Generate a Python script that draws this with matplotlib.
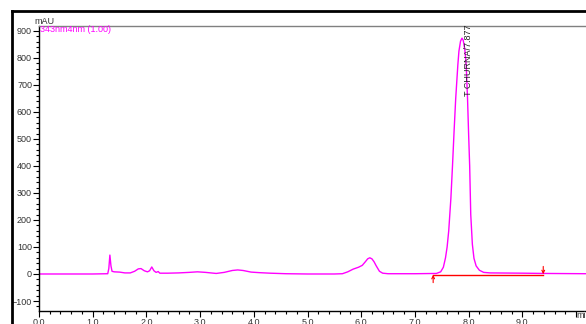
import matplotlib
matplotlib.use("Agg")
import matplotlib.pyplot as plt
from matplotlib.lines import Line2D
from matplotlib.ticker import MultipleLocator, FixedLocator

plt.rcParams['font.family'] = ['Liberation Sans', 'DejaVu Sans']

# Chromatogram trace (time in min, absorbance in mAU)
time_min = [0.0, 1.0, 1.28, 1.30, 1.32, 1.34, 1.36, 1.40, 1.50, 1.60, 1.70, 1.78,
            1.85, 1.90, 1.96, 2.02, 2.06, 2.10, 2.14, 2.18, 2.22, 2.25, 2.40, 2.60,
            2.80, 2.95, 3.10, 3.30, 3.45, 3.60, 3.70, 3.80, 3.95, 4.10, 4.30, 4.60,
            5.00, 5.50, 5.65, 5.75, 5.85, 5.95, 6.02, 6.08, 6.12, 6.16, 6.20, 6.24,
            6.28, 6.34, 6.40, 6.50, 7.00, 7.40, 7.48, 7.53, 7.57, 7.60, 7.63, 7.67,
            7.70, 7.73, 7.76, 7.80, 7.82, 7.85, 7.877, 7.90, 7.93, 7.955, 7.98, 8.00,
            8.02, 8.04, 8.07, 8.10, 8.14, 8.20, 8.28, 8.40, 9.00, 9.40, 10.20]
absorb_mau = [0, 0, 1, 20, 70, 30, 10, 8, 7, 4, 4, 10,
              19, 20, 12, 8, 12, 26, 12, 6, 9, 3, 3, 4,
              6, 8, 6, 2, 6, 13, 15, 13, 7, 5, 3, 1,
              0, 0, 1, 8, 18, 25, 32, 46, 56, 60, 56, 45,
              30, 10, 3, 1, 1, 2, 8, 25, 60, 100, 160, 280,
              400, 530, 650, 775, 825, 862, 873, 865, 830, 775, 650, 520,
              400, 220, 110, 58, 30, 14, 6, 4, 3, 2, 1]

# Integration baseline of the main peak
baseline_time = [7.34, 9.39]
baseline_mau = [-2, -2]

peak_label = "T CHURNA/7.877"
peak_time = 7.877
channel_label = "343nm4nm (1.00)"
y_unit = "mAU"
x_ticks = [0, 1, 2, 3, 4, 5, 6, 7, 8, 9, 10]
x_tick_labels = ["0.0", "1.0", "2.0", "3.0", "4.0", "5.0", "6.0", "7.0", "8.0", "9.0", ""]
y_ticks = [-100, 0, 100, 200, 300, 400, 500, 600, 700, 800, 900]

W, H = 586, 324
fig = plt.figure(figsize=(W / 100, H / 100), dpi=100)
fig.patch.set_facecolor('white')

ax_l, ax_r, ax_t, ax_b = 39, 586, 26, 311
ax = fig.add_axes([ax_l / W, 1 - ax_b / H, (ax_r - ax_l) / W, (ax_b - ax_t) / H])

xmax = (ax_r - ax_l) / 53.7
ax.set_xlim(0, xmax)
ax.set_ylim(-137, 918)

ax.plot(time_min, absorb_mau, color='#ff00ff', lw=1.0, solid_joinstyle='round')
ax.plot(baseline_time, baseline_mau, color='#ff0000', lw=1.0)
# integration markers
ax.annotate('', xy=(baseline_time[0], baseline_mau[0] - 1), xytext=(baseline_time[0], baseline_mau[0] - 30),
            arrowprops=dict(arrowstyle='->', color='#ff0000', lw=0.8, mutation_scale=5,
                            shrinkA=0, shrinkB=0))
ax.annotate('', xy=(baseline_time[1], baseline_mau[1] + 1), xytext=(baseline_time[1], baseline_mau[1] + 30),
            arrowprops=dict(arrowstyle='->', color='#ff0000', lw=0.8, mutation_scale=5,
                            shrinkA=0, shrinkB=0))

ax.text(peak_time + 0.04, 922, peak_label, rotation=90, ha='left', va='top',
        fontsize=6.5, color='#222222')

ax.spines['top'].set_color('#808080')
ax.spines['top'].set_linewidth(1.0)
ax.spines['right'].set_visible(False)
for s in ('left', 'bottom'):
    ax.spines[s].set_color('black')
    ax.spines[s].set_linewidth(1.0)

ax.xaxis.set_major_locator(FixedLocator(x_ticks))
ax.set_xticklabels(x_tick_labels)
ax.xaxis.set_minor_locator(MultipleLocator(0.2))
ax.yaxis.set_major_locator(FixedLocator(y_ticks))
ax.yaxis.set_minor_locator(MultipleLocator(20))
ax.tick_params(axis='both', which='major', direction='out', length=4, width=0.8,
               labelsize=6.5, labelcolor='#333333', pad=1)
ax.tick_params(axis='both', which='minor', direction='out', length=2, width=0.8)
ax.tick_params(top=False, right=False)

ax.text(10.0, -137, "min", ha='left', va='top', fontsize=6.5, color='#333333')
ax.text(-0.08, 918, y_unit, ha='left', va='bottom', fontsize=6.5, color='#333333')
ax.text(0.02, 905, channel_label, ha='left', va='center', fontsize=6.5, color='#ff00ff')

# outer frame of the report panel
fig.add_artist(Line2D([12 / W, 1.0], [1 - 11 / H, 1 - 11 / H], transform=fig.transFigure,
                      color='black', lw=2.0))
fig.add_artist(Line2D([12 / W, 12 / W], [0.0, 1 - 11 / H], transform=fig.transFigure,
                      color='black', lw=2.0))

fig.savefig('out.png', dpi=100, facecolor='white')
